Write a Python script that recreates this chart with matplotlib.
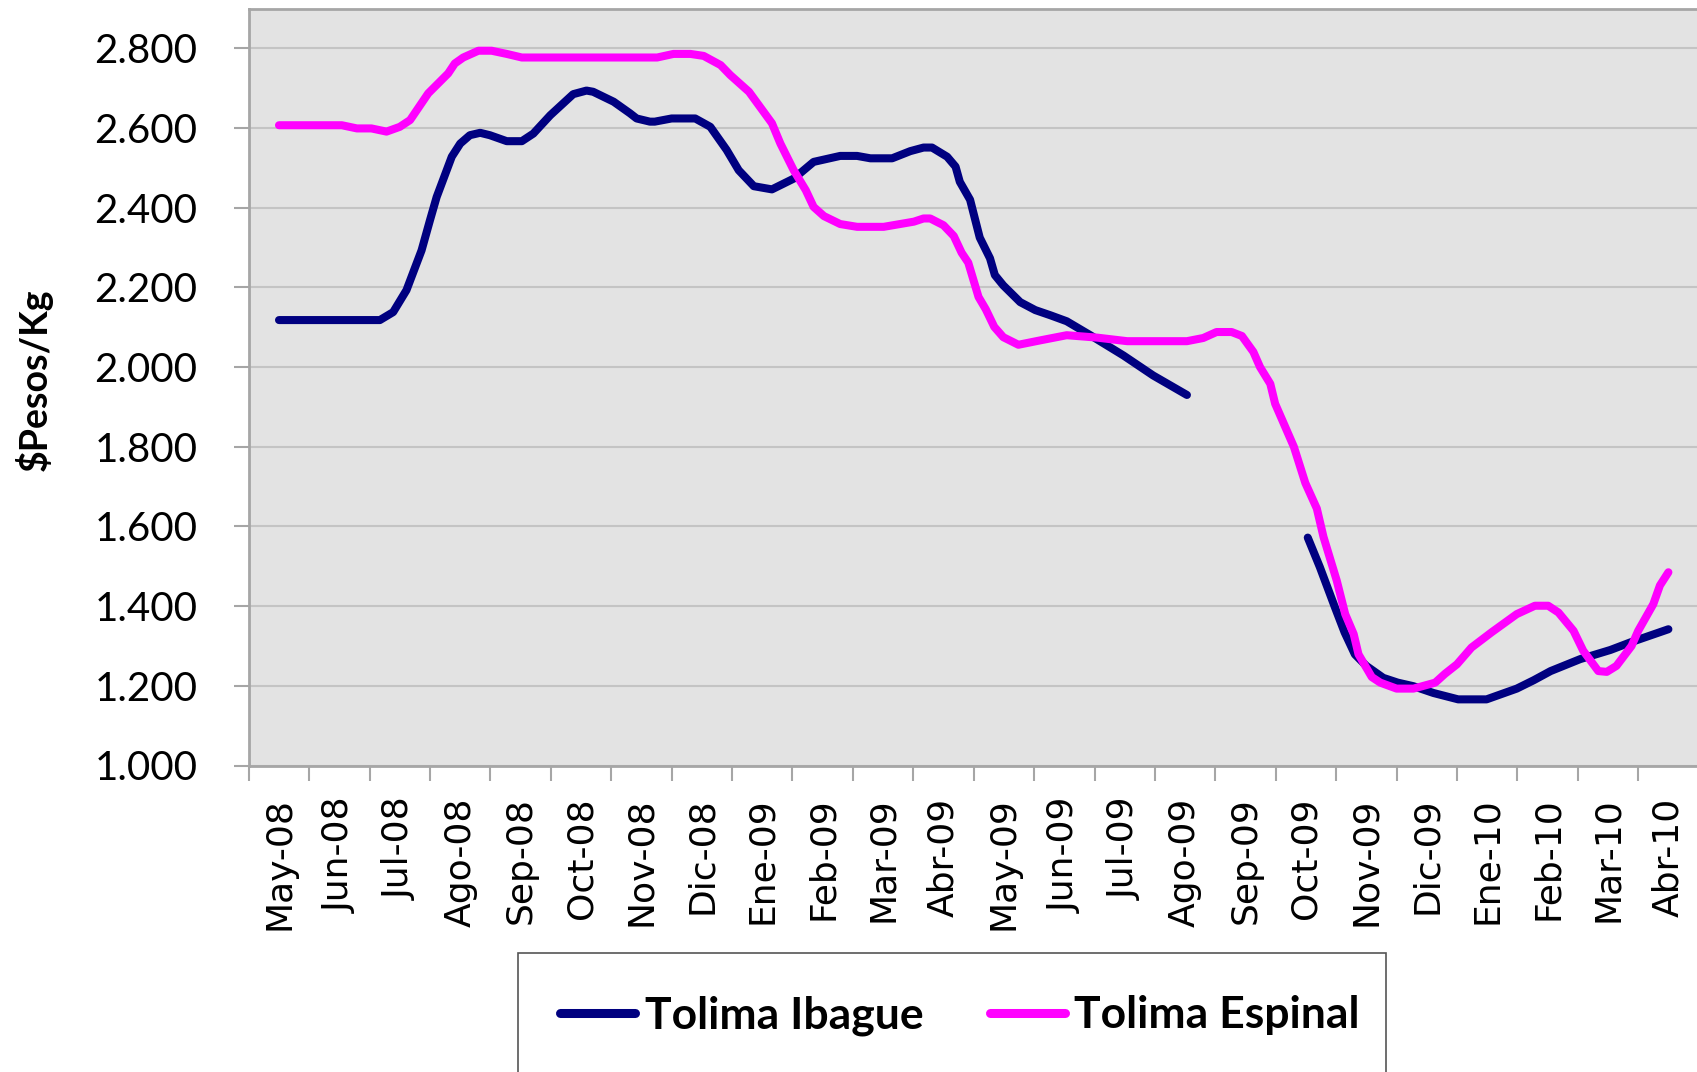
import numpy as np
import matplotlib
matplotlib.use("Agg")
import matplotlib.pyplot as plt
from matplotlib.ticker import FixedLocator, FuncFormatter
from matplotlib.patches import Rectangle

# ---------------- data ----------------
MESES = ['May-08', 'Jun-08', 'Jul-08', 'Ago-08', 'Sep-08', 'Oct-08', 'Nov-08', 'Dic-08',
         'Ene-09', 'Feb-09', 'Mar-09', 'Abr-09', 'May-09', 'Jun-09', 'Jul-09', 'Ago-09',
         'Sep-09', 'Oct-09', 'Nov-09', 'Dic-09', 'Ene-10', 'Feb-10', 'Mar-10', 'Abr-10']

# time position in months since May-08 (weekly observations, vertices of the curve)
IBAGUE_MES = [0.00, 1.67, 1.89, 2.11, 2.36, 2.50, 2.61, 2.86, 3.00, 3.16, 3.33, 3.49, 3.77,
              4.02, 4.21, 4.49, 4.87, 5.09, 5.20, 5.54, 5.81, 5.92, 6.14, 6.22, 6.50, 6.89,
              7.14, 7.41, 7.61, 7.86, 8.16, 8.52, 8.85, 9.29, 9.57, 9.79, 10.15, 10.45,
              10.67, 10.81, 11.06, 11.20, 11.27, 11.44, 11.60, 11.77, 11.85, 11.99, 12.27,
              12.52, 12.77, 13.04, 13.43, 13.98, 14.47, 15.03,
              16.00,
              17.03, 17.23, 17.48, 17.64, 17.81, 18.00, 18.28, 18.52, 18.78, 19.11, 19.52,
              19.99, 20.49, 20.77, 21.05, 21.54, 22.04, 22.37, 23.00]
IBAGUE = [2118, 2118, 2138, 2193, 2293, 2369, 2427, 2528, 2561, 2582, 2588, 2582, 2567,
          2567, 2586, 2632, 2685, 2694, 2691, 2666, 2637, 2624, 2616, 2616, 2624, 2624,
          2603, 2545, 2494, 2454, 2446, 2473, 2515, 2530, 2530, 2524, 2524, 2542,
          2551, 2551, 2528, 2503, 2465, 2420, 2325, 2273, 2231, 2205, 2163,
          2143, 2130, 2115, 2080, 2029, 1979, 1930,
          np.nan,
          1572, 1498, 1397, 1334, 1279, 1250, 1220, 1208, 1199, 1182, 1166,
          1166, 1193, 1214, 1237, 1267, 1290, 1309, 1342]

ESPINAL_MES = [0.00, 1.04, 1.29, 1.53, 1.78, 2.00, 2.17, 2.47, 2.80, 2.91, 3.05, 3.30, 3.52,
               3.77, 4.02, 6.26, 6.53, 6.81, 7.03, 7.31, 7.47, 7.78, 8.16, 8.30, 8.52, 8.72,
               8.85, 9.02, 9.29, 9.57, 10.01, 10.51, 10.67, 10.78, 11.00, 11.17, 11.30,
               11.41, 11.58, 11.70, 11.84, 11.99, 12.24, 12.60, 13.04, 13.54, 14.04, 15.03,
               15.30, 15.52, 15.77, 15.94, 16.13, 16.24, 16.41, 16.49, 16.80, 16.99, 17.18,
               17.29, 17.51, 17.65, 17.79, 17.87, 18.09, 18.23, 18.50, 18.78, 19.14, 19.30,
               19.50, 19.74, 20.07, 20.49, 20.79, 21.01, 21.18, 21.43, 21.59, 21.84, 21.98,
               22.14, 22.39, 22.50, 22.75, 22.86, 23.00]
ESPINAL = [2607, 2607, 2599, 2599, 2591, 2603, 2620, 2687, 2737, 2762, 2777, 2794, 2794,
           2786, 2777, 2777, 2786, 2786, 2781, 2758, 2733, 2691, 2612, 2561, 2494, 2444,
           2402, 2379, 2359, 2352, 2352, 2365, 2373, 2373, 2356, 2329, 2287,
           2262, 2176, 2145, 2101, 2075, 2056, 2067, 2080, 2074, 2065, 2065,
           2073, 2088, 2088, 2078, 2038, 2000, 1958, 1908, 1800, 1709, 1645,
           1574, 1464, 1380, 1330, 1279, 1222, 1208, 1193, 1193, 1208, 1230,
           1254, 1296, 1334, 1380, 1401, 1401, 1384, 1338, 1288, 1237, 1235,
           1250, 1300, 1338, 1405, 1452, 1485]

YTICKS = [1000, 1200, 1400, 1600, 1800, 2000, 2200, 2400, 2600, 2800]
SERIES = ['Tolima Ibague', 'Tolima Espinal']
YLABEL = '$Pesos/Kg'

# ---------------- figure ----------------
W, H = 1697, 1072
fig = plt.figure(figsize=(W / 100, H / 100), dpi=100)
fig.patch.set_facecolor('white')

ax_left, ax_right, ax_top, ax_bottom = 248.8, 1698.6, 8.5, 765.5
ax = fig.add_axes([ax_left / W, 1 - ax_bottom / H, (ax_right - ax_left) / W,
                   (ax_bottom - ax_top) / H])
ax.set_facecolor('#e3e3e3')

ax.plot(IBAGUE_MES, IBAGUE, color='#000080', lw=5.8, solid_capstyle='round',
        solid_joinstyle='round', label=SERIES[0], zorder=3)
ax.plot(ESPINAL_MES, ESPINAL, color='#ff00ff', lw=5.8, solid_capstyle='round',
        solid_joinstyle='round', label=SERIES[1], zorder=3)

ax.set_xlim(-0.5, len(MESES) - 0.5)
ax.set_ylim(1000, 2900)

# y axis
ax.yaxis.set_major_locator(FixedLocator(YTICKS))
ax.yaxis.set_major_formatter(FuncFormatter(lambda v, p: f"{int(v):,}".replace(',', '.')))
ax.grid(axis='y', color='#c4c4c4', lw=1.5, zorder=1)
ax.set_axisbelow(True)
ax.tick_params(axis='y', which='major', length=11, width=1.5, color='#a6a6a6',
               pad=26, labelsize=29)
for lab in ax.get_yticklabels():
    lab.set_fontfamily(['Lato', 'DejaVu Sans'])

# x axis: ticks between months, labels centred on months
ax.xaxis.set_major_locator(FixedLocator(np.arange(len(MESES) + 1) - 0.5))
ax.xaxis.set_major_formatter(FuncFormatter(lambda v, p: ''))
ax.xaxis.set_minor_locator(FixedLocator(np.arange(len(MESES))))
ax.set_xticks(np.arange(len(MESES)), MESES, minor=True)
ax.tick_params(axis='x', which='major', length=11, width=1.5, color='#a6a6a6')
ax.tick_params(axis='x', which='minor', length=0, pad=23, labelsize=26,
               labelrotation=90)
for lab in ax.get_xticklabels(minor=True):
    lab.set_fontfamily(['DejaVu Sans'])
    lab.set_va('top')
    lab.set_ha('center')

for side in ['left', 'bottom', 'top']:
    ax.spines[side].set_color('#a6a6a6')
    ax.spines[side].set_linewidth(2)
ax.spines['right'].set_visible(False)

ax.set_ylabel(YLABEL, fontsize=27, fontweight='bold', fontfamily=['Lato', 'DejaVu Sans'])
ax.yaxis.set_label_coords((53 - ax_left) / (ax_right - ax_left),
                          (ax_bottom - 380) / (ax_bottom - ax_top))

# legend box (extends past the bottom edge, as in the original)
box_l, box_r, box_t = 518, 1386, 953
fig.patches.append(Rectangle((box_l / W, -0.05), (box_r - box_l) / W, 1 - box_t / H + 0.05,
                             transform=fig.transFigure, facecolor='white',
                             edgecolor='#555555', linewidth=1.2, zorder=0))

leg = fig.legend(loc='upper left', bbox_to_anchor=(box_l / W, 1 - box_t / H), ncol=2,
                 frameon=False, borderpad=0.95, handlelength=1.68,
                 handletextpad=0.22, columnspacing=1.5, borderaxespad=0,
                 prop={'family': ['Lato', 'DejaVu Sans'], 'weight': 'bold', 'size': 32})
leg.set_zorder(5)
for h in leg.get_lines():
    h.set_linewidth(6.5)
    h.set_solid_capstyle('round')

fig.savefig('out.png', dpi=100)
